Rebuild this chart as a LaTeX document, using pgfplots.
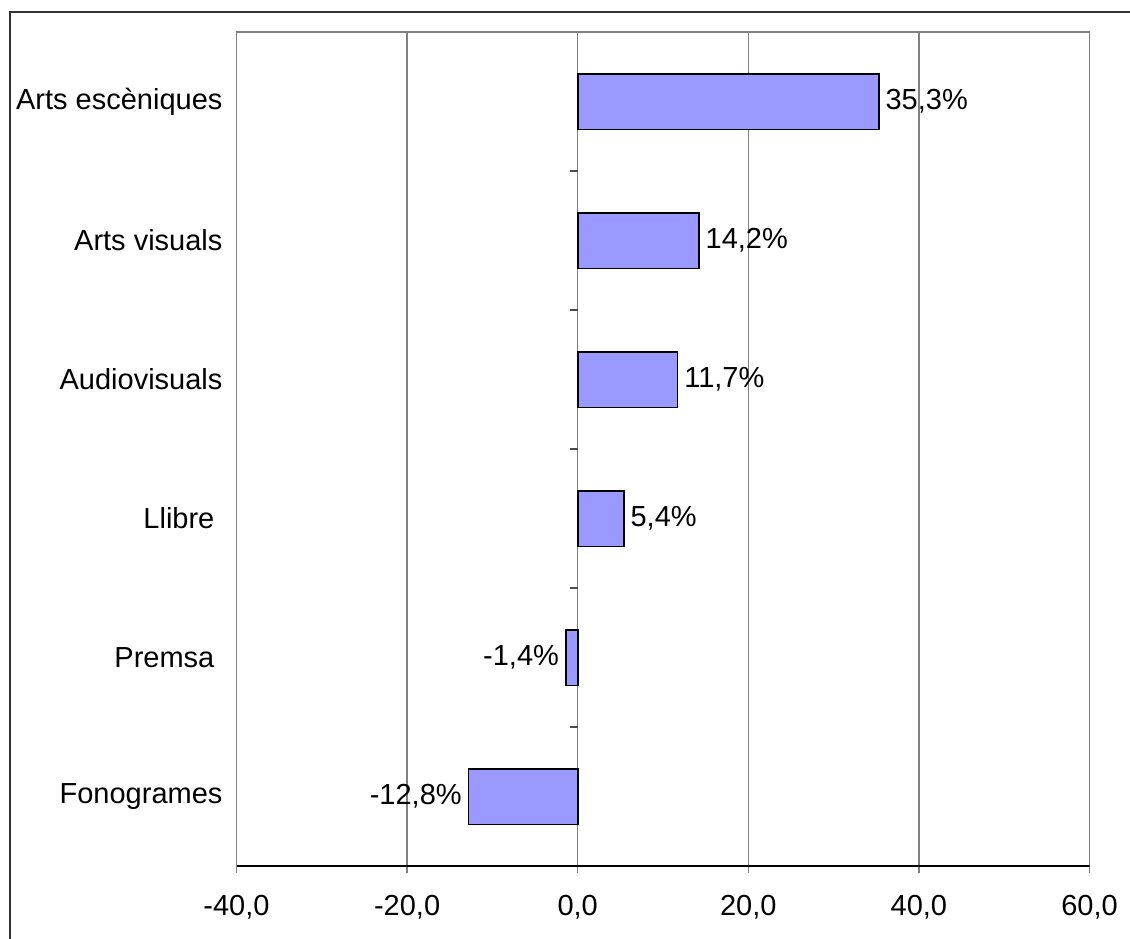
\documentclass[border=0pt]{standalone}
\usepackage{fontspec}
\setmainfont{Liberation Sans}
\usepackage{pgfplots}
\pgfplotsset{compat=1.18}
\definecolor{barblue}{HTML}{9999FF}
\definecolor{gridgray}{HTML}{808080}
\newcommand\fs{\fontsize{14.5pt}{17pt}\selectfont}

\pgfplotstableread{
pos value
0 -12.8
1 -1.4
2 5.4
3 11.7
4 14.2
5 35.3
}\growth

\begin{document}
\fs
\begin{tikzpicture}[x=1pt,y=1pt]
\useasboundingbox (0,0) rectangle (565,469);
% outer frame (clipped right and bottom in the original)
\draw[line width=0.7pt, black!80] (5,-2) -- (5,463) -- (570,463);
\begin{axis}[
    at={(118.25pt,36pt)}, anchor=south west,
    scale only axis,
    width=426.5pt, height=417pt,
    xbar, bar width=0.4,
    xmin=-40, xmax=60,
    ymin=-0.5, ymax=5.5,
    xtick={-40,-20,...,60},
    ytick={0,...,5},
    yticklabels={Fonogrames, Premsa\kern0.278em, Llibre\kern0.278em, Audiovisuals, Arts visuals, Arts escèniques},
    xmajorgrids,
    grid style={gridgray, line width=0.65pt},
    axis line style={gridgray, line width=0.65pt},
    tick align=outside,
    xtick pos=bottom,
    ytick pos=left,
    major tick length=3.5pt,
    xtick style={gridgray, line width=0.65pt},
    ytick style={draw=none},
    tick label style={font=\fs},
    x tick label style={yshift=-6pt},
    y tick label style={xshift=1.5pt},
    /pgf/number format/.cd, fixed, fixed zerofill, precision=1, use comma, assume math mode=true,
    /pgfplots/.cd,
    point meta=x,
    nodes near coords={\pgfmathprintnumber{\pgfplotspointmeta}\%},
    nodes near coords align={horizontal},
    every node near coord/.append style={font=\fs, inner sep=3pt, black},
]
\addplot[fill=barblue, draw=black, line width=0.8pt] table[x=value, y=pos] {\growth};
\draw[black, line width=0.7pt] (axis cs:-40,-0.5) -- (axis cs:60,-0.5);
\pgfplotsinvokeforeach{0.5,1.5,2.5,3.5,4.5}{
  \draw[black!70, line width=0.65pt] (axis cs:0,#1) -- ++(-4pt,0pt);
}
\end{axis}
\end{tikzpicture}
\end{document}
